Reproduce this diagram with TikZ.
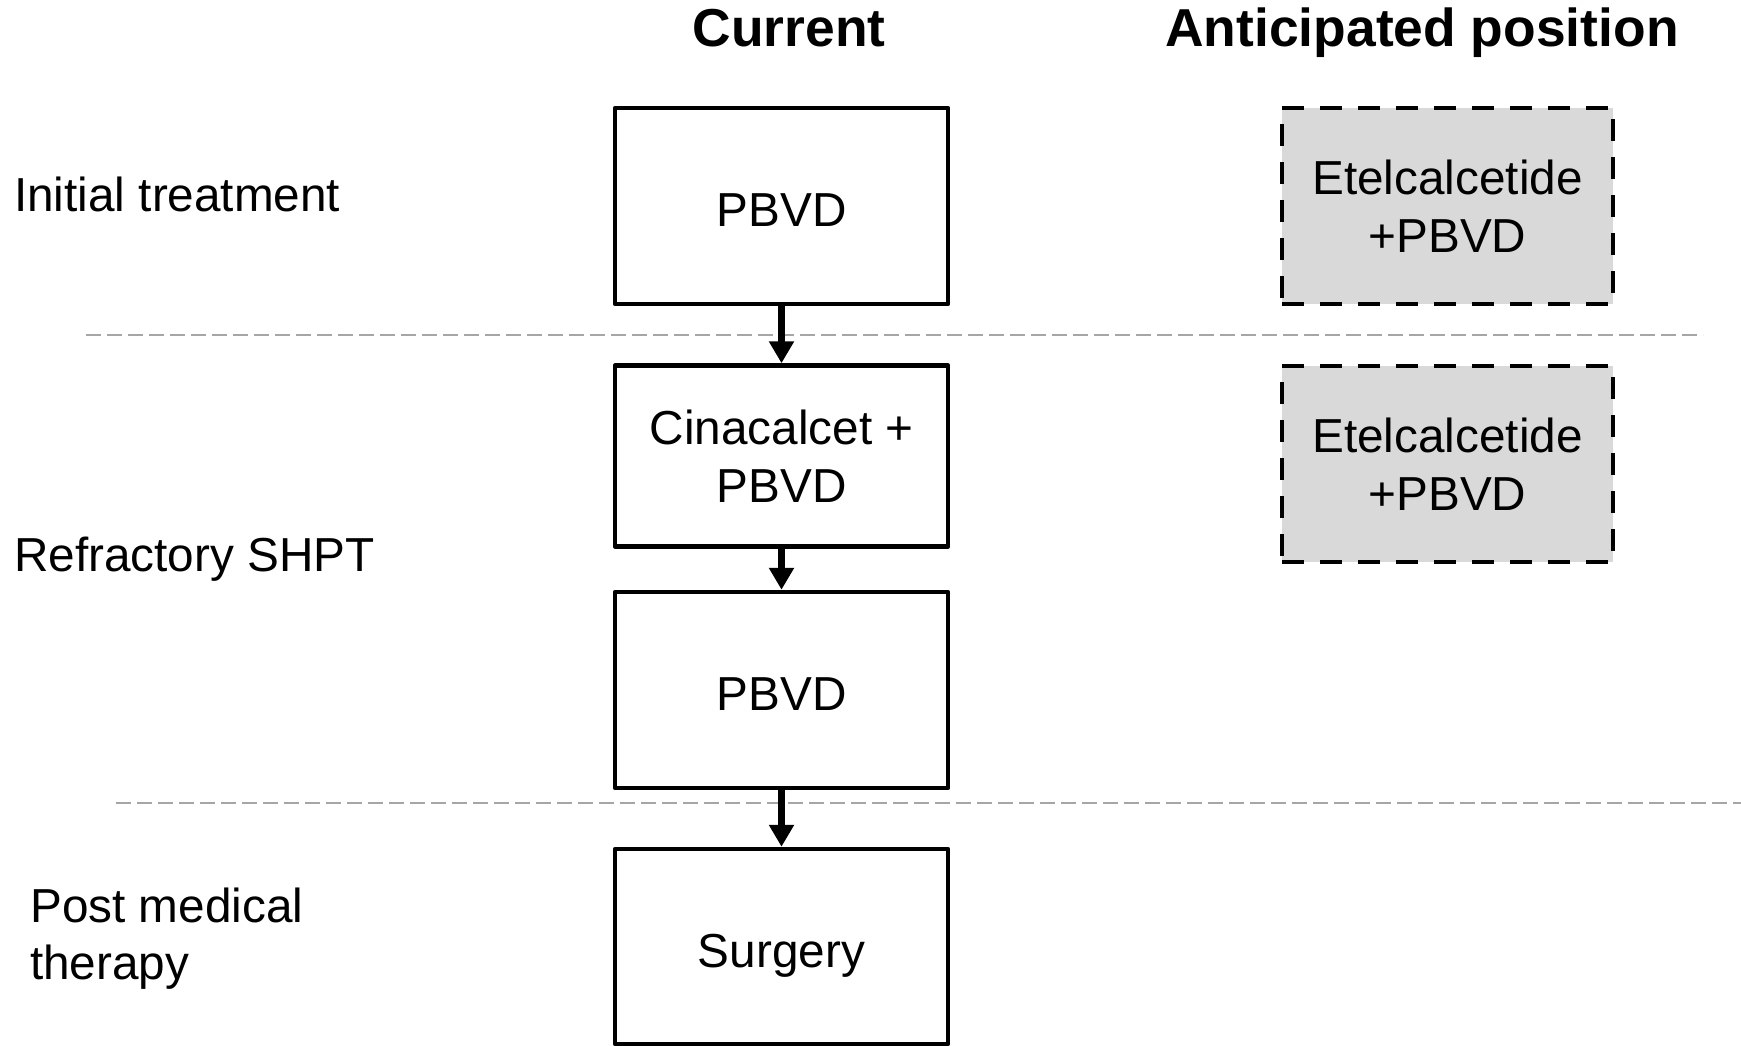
\documentclass[tikz,border=0pt]{standalone}
\usepackage{fontspec}
\setmainfont{Liberation Sans}
\usetikzlibrary{arrows.meta}
\definecolor{sepgray}{HTML}{A6A6A6}
\definecolor{boxfill}{HTML}{D9D9D9}
\begin{document}
\begin{tikzpicture}[x=1pt,y=-1pt,
  txt/.style={font=\fontsize{47.7}{57.5}\selectfont, inner sep=0pt},
  head/.style={font=\fontsize{53.4}{60}\selectfont\bfseries, inner sep=0pt, anchor=base},
  curbox/.style={draw=black, line width=4.5pt, line join=round, fill=white,
    minimum width=333pt, inner sep=0pt, align=center,
    font=\fontsize{47.7}{57.5}\selectfont},
  oneline/.style={text height=41pt, text depth=0pt},
  antbox/.style={draw=black, line width=4.5pt, fill=boxfill,
    dash pattern=on 22pt off 16pt, minimum width=331pt, minimum height=196pt,
    inner sep=0pt, align=center, font=\fontsize{47.7}{57.5}\selectfont},
  sepline/.style={draw=sepgray, line width=2pt, dash pattern=on 15pt off 6pt},
  steparrow/.style={draw=black, line width=7.5pt,
    -{Triangle[width=24pt,length=22pt]}}]
\useasboundingbox (0,0) rectangle (1741,1046);

% row separators
\coordinate (s1a) at (86,335);
\coordinate (s1b) at (1703,335);
\coordinate (s2a) at (116,803);
\coordinate (s2b) at (1741,803);
\draw[sepline] (s1a) -- (s1b);
\draw[sepline] (s2a) -- (s2b);

% column headings
\node[head] (hcur) at (789,47) {Current};
\node[head] (hant) at (1422,47) {Anticipated position};

% row labels
\node[txt, anchor=west] (linit) at (14,194) {Initial treatment};
\node[txt, anchor=west] (lrefr) at (14,559.5) {Refractory SHPT};
\node[txt, anchor=west, align=left] (lpost) at (30,938.5) {Post medical\\therapy};

% current pathway
\node[curbox, oneline, minimum height=196pt] (c1) at (781.5,206) {PBVD};
\node[curbox, minimum height=181pt] (c2) at (781.5,456) {Cinacalcet +\\PBVD};
\node[curbox, oneline, minimum height=196pt] (c3) at (781.5,690) {PBVD};
\node[curbox, oneline, minimum height=195pt] (c4) at (781.5,946.5) {Surgery};

\draw[steparrow] (c1.south) -- (c2.north);
\draw[steparrow] (c2.south) -- (c3.north);
\draw[steparrow] (c3.south) -- (c4.north);

% anticipated positions
\node[antbox] (a1) at (1447.5,206) {Etelcalcetide\\+PBVD};
\node[antbox] (a2) at (1447.5,464) {Etelcalcetide\\+PBVD};
\end{tikzpicture}
\end{document}
